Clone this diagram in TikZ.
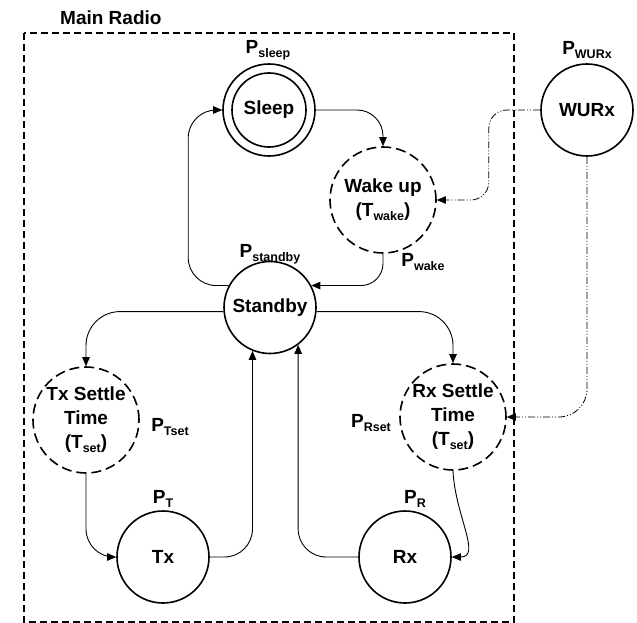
\documentclass[tikz,border=0pt]{standalone}
\usepackage{fontspec}
\setmainfont{Liberation Sans}
\usetikzlibrary{arrows.meta}
\newcommand{\sbt}[1]{\raisebox{-0.22em}{\fontsize{12.5}{12.5}\selectfont #1}}
\begin{document}
\begin{tikzpicture}[x=1pt,y=-1pt,
  stnode/.style={circle,draw,line width=1.6pt,minimum size=92pt,inner sep=0pt,
    font=\bfseries\fontsize{19}{24}\selectfont,align=center},
  dstnode/.style={stnode,minimum size=106pt,dash pattern=on 10pt off 5pt},
  lab/.style={font=\bfseries\fontsize{19}{22}\selectfont,inner sep=0pt},
  arr/.style={-{Triangle[length=9pt,width=7.5pt]},line width=0.9pt},
  dd/.style={arr,line width=0.8pt,dash pattern=on 7pt off 2pt on 1pt off 2pt on 1pt off 2pt}]
\useasboundingbox (0,0) rectangle (637,623);
% main radio box
\draw[line width=1.2pt,dash pattern=on 7pt off 4pt] (24,33) rectangle (514,622);
\node[lab,anchor=west] (title) at (60,18) {Main Radio};
% states
\node[stnode] (sleep) at (269,110) {Sleep};
\draw[line width=1.6pt] (sleep.center) circle (37pt);
\node[dstnode] (wake) at (383,200) {Wake up\\(T\sbt{wake})};
\node[stnode] (standby) at (270,307.5) {Standby};
\node[dstnode] (txs) at (86,420) {Tx Settle\\Time\\(T\sbt{set})};
\node[dstnode] (rxs) at (453,417) {Rx Settle\\Time\\(T\sbt{set})};
\node[stnode] (tx) at (163,557) {Tx};
\node[stnode] (rx) at (405,557) {Rx};
\node[stnode] (wurx) at (587,110) {WURx};
% power labels
\node[lab] (psleep) at (268,50) {P\sbt{sleep}};
\node[lab] (pwurx) at (587,50) {P\sbt{WURx}};
\node[lab] (pstandby) at (270,254) {P\sbt{standby}};
\node[lab] (pwake) at (423,262) {P\sbt{wake}};
\node[lab] (ptset) at (170,427) {P\sbt{Tset}};
\node[lab] (prset) at (371,423) {P\sbt{Rset}};
\node[lab] (pt) at (163,499) {P\sbt{T}};
\node[lab] (pr) at (415,499) {P\sbt{R}};
% transitions
\draw[arr,rounded corners=28pt] (standby.152) -| ([xshift=-34pt]sleep.west) -- (sleep.west);
\draw[arr,rounded corners=26pt] (sleep.east) -| (wake.north);
\draw[arr,rounded corners=22pt] (wake.south) |- (standby.28);
\draw[arr,rounded corners=34pt] (standby.185) -| (txs.north);
\draw[arr,rounded corners=34pt] (standby.355) -| (rxs.north);
\draw[arr,rounded corners=28pt] (txs.south) |- (tx.west);
\draw[arr,rounded corners=28pt] (tx.east) -| (standby.248);
\draw[arr,rounded corners=28pt] (rx.west) -| (standby.307);
\draw[arr] (rxs.south) .. controls (455,515) and (482,557) .. (rx.east);
% wake-up receiver signals
\draw[dd,rounded corners=18pt] (wurx.west) -| ([xshift=52pt]wake.east) -- (wake.east);
\draw[dd,rounded corners=28pt] (wurx.south) |- (rxs.east);
\end{tikzpicture}
\end{document}
